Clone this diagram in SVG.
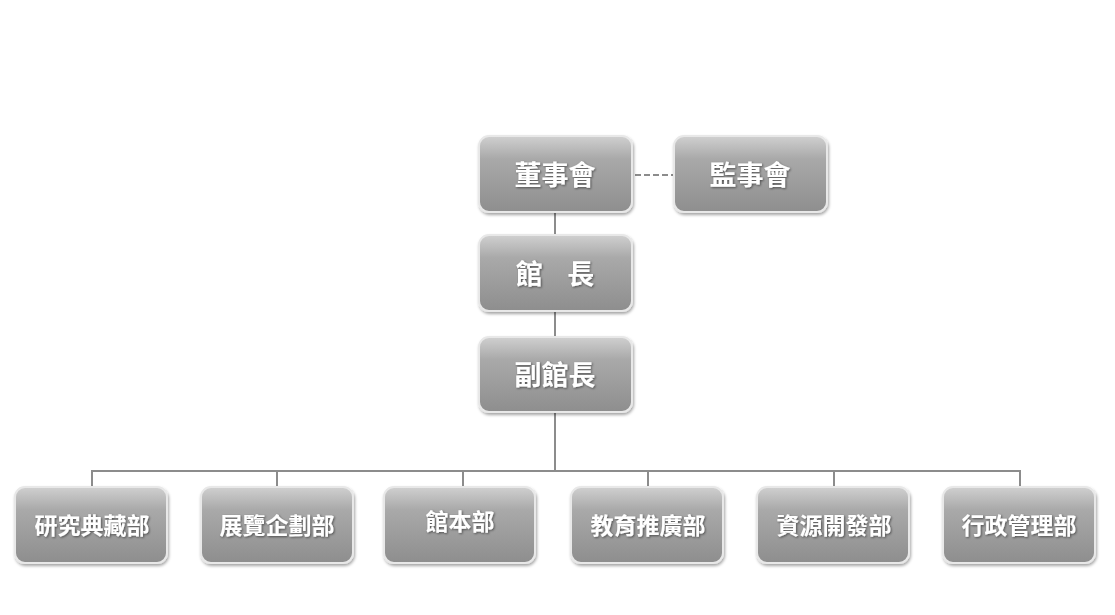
<svg xmlns="http://www.w3.org/2000/svg" width="1115" height="615" viewBox="0 0 1115 615">
<style>
.b{fill:url(#g);stroke:#e8e8e8;stroke-width:2;filter:url(#s)}
.t{font-family:"Noto Sans CJK TC","Noto Sans CJK SC",sans-serif;font-weight:bold;fill:#fff;text-anchor:middle;filter:url(#ts)}
.l{stroke:#8c8c8c;stroke-width:2;fill:none}
</style>
<defs>
<linearGradient id="g" x1="0" y1="0" x2="0" y2="1"><stop offset="0" stop-color="#d0d0d0"/><stop offset="0.3" stop-color="#a9a9a9"/><stop offset="1" stop-color="#8e8e8e"/></linearGradient>
<filter id="s" x="-10%" y="-10%" width="120%" height="130%"><feDropShadow dx="1" dy="2" stdDeviation="1.5" flood-color="#000" flood-opacity="0.35"/></filter>
<filter id="ts"><feDropShadow dx="1" dy="1" stdDeviation="1" flood-color="#000" flood-opacity="0.5"/></filter>
</defs>
<rect width="1115" height="615" fill="#fff"/>
<g id="connectors">
<line class="l" x1="555" y1="212" x2="555" y2="234"/>
<line class="l" x1="555" y1="311" x2="555" y2="337"/>
<line class="l" x1="555" y1="412" x2="555" y2="471"/>
<line class="l" x1="635" y1="175" x2="674" y2="175" stroke-dasharray="6,3"/>
<polyline class="l" points="92,487 92,471 1020,471 1020,487"/>
<line class="l" x1="277" y1="471" x2="277" y2="487"/>
<line class="l" x1="463" y1="471" x2="463" y2="487"/>
<line class="l" x1="648" y1="471" x2="648" y2="487"/>
<line class="l" x1="834" y1="471" x2="834" y2="487"/>
</g>
<g id="n1"><rect class="b" x="479" y="136" width="153" height="76" rx="10"/><text class="t" x="555" y="185" font-size="27">董事會</text></g>
<g id="n2"><rect class="b" x="674" y="136" width="153" height="76" rx="10"/><text class="t" x="750" y="185" font-size="27">監事會</text></g>
<g id="n3"><rect class="b" x="479" y="235" width="153" height="76" rx="10"/><text class="t" x="555" y="284" font-size="27" xml:space="preserve">館    長</text></g>
<g id="n4"><rect class="b" x="479" y="337" width="153" height="75" rx="10"/><text class="t" x="555" y="385" font-size="27">副館長</text></g>
<g id="n5"><rect class="b" x="15" y="487" width="152" height="76" rx="10"/><text class="t" x="92" y="534" font-size="23">研究典藏部</text></g>
<g id="n6"><rect class="b" x="201" y="487" width="152" height="76" rx="10"/><text class="t" x="277" y="534" font-size="23">展覽企劃部</text></g>
<g id="n7"><rect class="b" x="384" y="487" width="151" height="76" rx="10"/><text class="t" x="460" y="530" font-size="23">館本部</text></g>
<g id="n8"><rect class="b" x="571" y="487" width="152" height="76" rx="10"/><text class="t" x="648" y="534" font-size="23">教育推廣部</text></g>
<g id="n9"><rect class="b" x="757" y="487" width="152" height="76" rx="10"/><text class="t" x="834" y="534" font-size="23">資源開發部</text></g>
<g id="n10"><rect class="b" x="943" y="487" width="152" height="76" rx="10"/><text class="t" x="1019" y="534" font-size="23">行政管理部</text></g>
</svg>
